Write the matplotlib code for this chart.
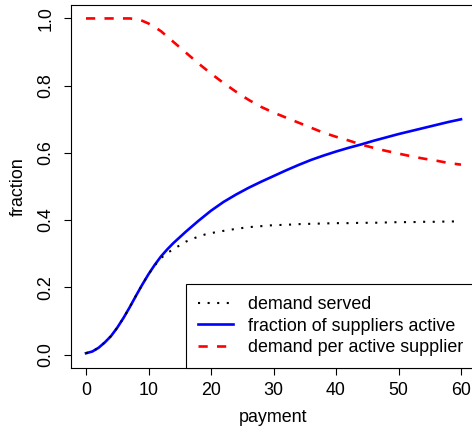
import matplotlib
matplotlib.use("Agg")
import matplotlib.pyplot as plt

plt.rcParams['font.family'] = ['Liberation Sans', 'DejaVu Sans']

# valeurs
payment = [0, 1, 2, 3, 4, 5, 6, 7, 8, 9, 10, 11, 12, 13, 14, 15, 16, 17, 18,
           19, 20, 21, 22, 23, 24, 26, 28, 30, 32, 34, 36, 38, 40, 42, 44, 46,
           48, 50, 52, 54, 56, 58, 60]
suppliers_active = [0.004, 0.009, 0.020, 0.036, 0.055, 0.080, 0.109, 0.141,
                    0.175, 0.208, 0.239, 0.267, 0.292, 0.313, 0.332, 0.349,
                    0.366, 0.382, 0.398, 0.413, 0.428, 0.441, 0.454, 0.465,
                    0.476, 0.496, 0.514, 0.531, 0.548, 0.564, 0.579, 0.592,
                    0.604, 0.615, 0.625, 0.636, 0.646, 0.656, 0.665, 0.674,
                    0.683, 0.692, 0.700]
demand_served = [0.004, 0.009, 0.020, 0.036, 0.055, 0.080, 0.109, 0.141,
                 0.175, 0.208, 0.239, 0.265, 0.287, 0.302, 0.314, 0.325,
                 0.336, 0.344, 0.351, 0.357, 0.361, 0.365, 0.368, 0.371,
                 0.374, 0.379, 0.382, 0.385, 0.386, 0.388, 0.389, 0.390,
                 0.391, 0.391, 0.392, 0.392, 0.393, 0.394, 0.394, 0.395,
                 0.395, 0.396, 0.396]
demand_per_supplier = [1.0, 1.0, 1.0, 1.0, 1.0, 1.0, 1.0, 1.0, 0.998, 0.993,
                       0.985, 0.974, 0.962, 0.946, 0.930, 0.914, 0.898, 0.882,
                       0.866, 0.851, 0.836, 0.822, 0.808, 0.795, 0.782, 0.758,
                       0.737, 0.720, 0.705, 0.690, 0.675, 0.660, 0.648, 0.637,
                       0.625, 0.615, 0.606, 0.598, 0.590, 0.583, 0.577, 0.570,
                       0.565]

x_ticks = [0, 10, 20, 30, 40, 50, 60]
y_ticks = [0.0, 0.2, 0.4, 0.6, 0.8, 1.0]

fs = 12.9

fig = plt.figure(figsize=(4.72, 4.26), dpi=100)
ax = fig.add_axes([71 / 472, 58 / 426, 405 / 472, 363 / 426])

l_blue, = ax.plot(payment, suppliers_active, color='#0000ff', lw=1.9,
                  label='fraction of suppliers active')
l_black, = ax.plot(payment, demand_served, color='black', lw=1.5,
                   linestyle=(0, (1, 3.6)), label='demand served')
l_red, = ax.plot(payment, demand_per_supplier, color='#ff0000', lw=1.9,
                 linestyle=(0, (3.5, 3.5)), label='demand per active supplier')

ax.set_xlim(-2.4, 62.4)
ax.set_ylim(-0.04, 1.04)
ax.set_xticks(x_ticks)
ax.set_yticks(y_ticks)
ax.set_xticklabels([str(v) for v in x_ticks])
ax.set_yticklabels(['%.1f' % v for v in y_ticks], rotation=90, va='center')
ax.tick_params(axis='both', length=5, width=0.8, labelsize=fs, color='black')
ax.tick_params(axis='x', pad=5)
ax.tick_params(axis='y', pad=7)
for s in ax.spines.values():
    s.set_linewidth(0.8)
    s.set_color('black')

fig.text(18 / 472, 1 - 186.5 / 426, 'fraction', rotation=90, ha='center',
         va='center', fontsize=fs)
fig.text(273.5 / 472, 1 - 417 / 426, 'payment', ha='center', va='center',
         fontsize=fs)

leg = ax.legend(handles=[l_black, l_blue, l_red], loc='lower left',
                bbox_to_anchor=((186 - 71) / 405, 0), borderaxespad=0,
                fontsize=fs, handlelength=1.95, handletextpad=0.88,
                borderpad=0.65, labelspacing=0.26, fancybox=False,
                framealpha=1, edgecolor='black')
leg.get_frame().set_linewidth(0.8)

fig.savefig('out.png', dpi=100)
